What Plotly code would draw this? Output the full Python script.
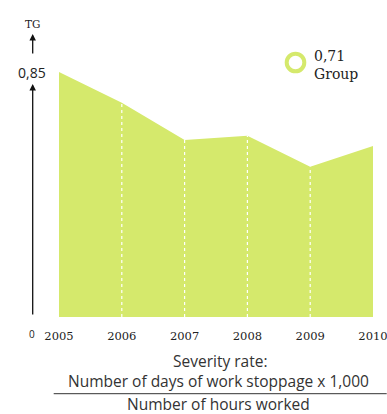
import plotly.graph_objects as go

years = [2005, 2006, 2007, 2008, 2009, 2010]
severity = [0.85, 0.743, 0.614, 0.629, 0.521, 0.593]
year_labels = ["2005", "2006", "2007", "2008", "2009", "2010"]
group_value = "0,71"

LIME = "#d5e96c"
W, H = 387, 414
ML, MR, MT, MB = 59.3, 13.7, 72, 97.3
PW, PH = W - ML - MR, H - MT - MB


def px(x):
    return (x - ML) / PW


def py(y):
    return (H - MB - y) / PH


fig = go.Figure()
fig.add_trace(go.Scatter(
    x=years, y=severity, mode="lines", fill="tozeroy",
    fillcolor=LIME, line=dict(color=LIME, width=0),
    hoverinfo="skip", showlegend=False,
))

shapes = []
# dotted white separators under each inner year
for yr, v in zip(years[1:-1], severity[1:-1]):
    shapes.append(dict(type="line", xref="x", yref="y", x0=yr, x1=yr, y0=0, y1=v,
                       line=dict(color="white", width=1.2, dash="dot")))
# legend ring
cx, cy, r = 295.8, 62.5, 8.8
shapes.append(dict(type="circle", xref="paper", yref="paper",
                   x0=px(cx - r), x1=px(cx + r), y0=py(cy + r), y1=py(cy - r),
                   line=dict(color=LIME, width=4), fillcolor="rgba(0,0,0,0)"))
# fraction bar
shapes.append(dict(type="line", xref="paper", yref="paper",
                   x0=px(54), x1=px(387), y0=py(393.3), y1=py(393.3),
                   line=dict(color="#333333", width=1)))

serif = "DejaVu Serif"
sans = "Open Sans"
ann = []


def label(x, y, text, family, size, color="#222222", xanchor="center"):
    ann.append(dict(xref="paper", yref="paper", x=px(x), y=py(y), text=text,
                    xanchor=xanchor, yanchor="middle", showarrow=False,
                    font=dict(family=family, size=size, color=color)))


# vertical axis arrows
ann.append(dict(xref="paper", yref="paper", x=px(33), y=py(84), ax=0, ay=232,
                text="", showarrow=True, arrowhead=2, arrowsize=1, arrowwidth=1.3,
                arrowcolor="#111111"))
ann.append(dict(xref="paper", yref="paper", x=px(33), y=py(34), ax=0, ay=21,
                text="", showarrow=True, arrowhead=2, arrowsize=1, arrowwidth=1.3,
                arrowcolor="#111111"))
label(33, 24, "TG", serif, 10.5)
label(32.5, 72, "0,85", sans, 14)
label(32, 334, "0", sans, 10)
# legend text
label(312, 56.5, group_value, serif, 14, xanchor="left")
label(312, 73.5, "Group", serif, 14, xanchor="left")
# formula caption
label(220, 361, "Severity rate:", sans, 15.5, "#333333")
label(219, 381, "Number of days of work stoppage x 1,000", sans, 15.5, "#333333")
label(219, 403.5, "Number of hours worked", sans, 15.5, "#333333")

fig.update_layout(
    width=W, height=H,
    margin=dict(l=ML, r=MR, t=MT, b=MB, pad=0, autoexpand=False),
    paper_bgcolor="white", plot_bgcolor="white",
    shapes=shapes, annotations=ann,
    xaxis=dict(range=[2005, 2010], tickvals=years, ticktext=year_labels,
               showgrid=False, zeroline=False, showline=False, ticks="",
               automargin=False,
               ticklabelstandoff=10, ticklabeloverflow="allow",
               tickfont=dict(family=serif, size=11.5, color="#222222")),
    yaxis=dict(range=[0, 0.85], showgrid=False, zeroline=False, showline=False,
               automargin=False, showticklabels=False, ticks=""),
)

fig.write_html("out.html")
